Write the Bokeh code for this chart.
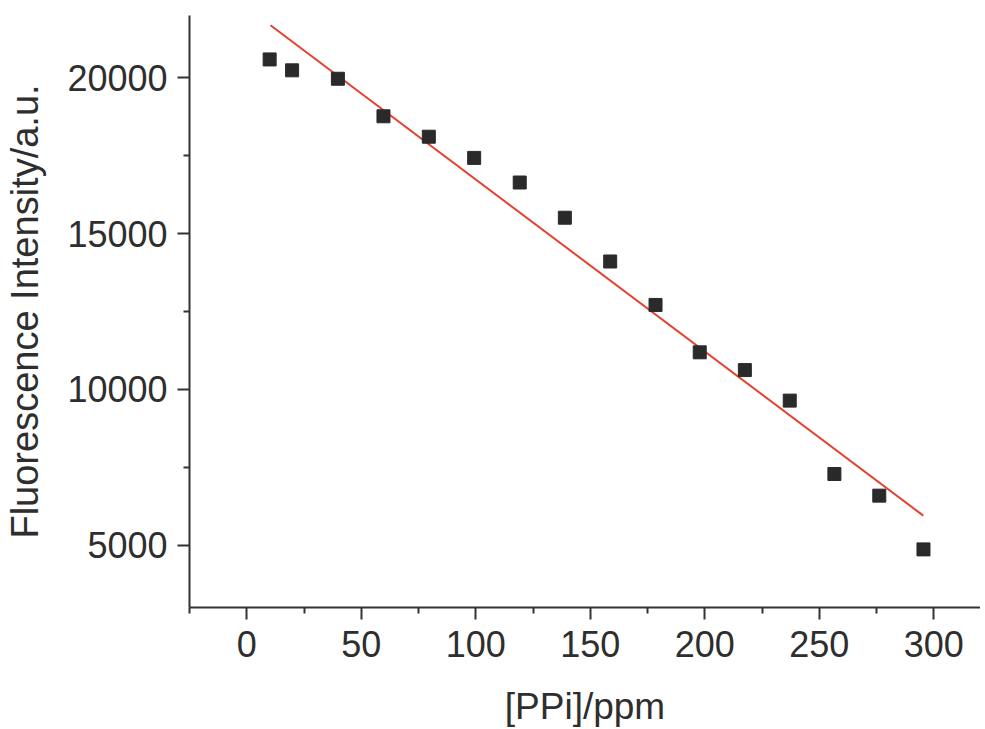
from bokeh.plotting import figure
from bokeh.models import FixedTicker, Range1d
from bokeh.embed import file_html
from bokeh.resources import INLINE

# Data
ppi_ppm = [10, 19.8, 39.8, 59.7, 79.5, 99.3, 119.2, 138.9, 158.7, 178.5,
           197.8, 217.5, 237.1, 256.6, 276.2, 295.5]
intensity = [20590, 20240, 19970, 18765, 18110, 17430, 16640, 15510, 14105,
             12710, 11190, 10620, 9640, 7285, 6590, 4865]
# linear fit line endpoints
fit_x = [10.35, 295.4]
fit_y = [21685, 5950]

x_major = [0, 50, 100, 150, 200, 250, 300]
x_minor = [-25, 25, 75, 125, 175, 225, 275, 325]
y_major = [5000, 10000, 15000, 20000]
y_minor = [7500, 12500, 17500]

FONT = "Liberation Sans"
TXT = "#2e2e2e"
AX = "#333333"

p = figure(width=980, height=729, output_backend="svg", toolbar_location=None,
           x_range=Range1d(-25, 320.4), y_range=Range1d(3000, 22000),
           min_border_left=189, min_border_right=0, min_border_top=15,
           min_border_bottom=0)

p.outline_line_color = None
p.xgrid.grid_line_color = None
p.ygrid.grid_line_color = None
p.background_fill_color = "white"
p.border_fill_color = "white"

p.line(fit_x, fit_y, line_color="#e5412f", line_width=2)
p.scatter(ppi_ppm, intensity, marker="square", size=13,
          fill_color="#2a2a2a", line_color="#2a2a2a")

for ax in (p.xaxis[0], p.yaxis[0]):
    ax.axis_line_color = AX
    ax.axis_line_width = 2
    ax.major_tick_line_color = AX
    ax.minor_tick_line_color = AX
    ax.major_tick_line_width = 2
    ax.minor_tick_line_width = 2
    ax.major_tick_out = 12
    ax.major_tick_in = 0
    ax.minor_tick_out = 6
    ax.minor_tick_in = 0
    ax.major_label_text_font = FONT
    ax.major_label_text_font_size = "36px"
    ax.major_label_text_color = TXT
    ax.axis_label_text_font = FONT
    ax.axis_label_text_font_size = "37px"
    ax.axis_label_text_font_style = "normal"
    ax.axis_label_text_color = TXT

p.yaxis.axis_label_text_font_size = "38px"
p.xaxis.ticker = FixedTicker(ticks=x_major, minor_ticks=x_minor)
p.yaxis.ticker = FixedTicker(ticks=y_major, minor_ticks=y_minor)
p.xaxis.axis_label = "[PPi]/ppm"
p.yaxis.axis_label = "Fluorescence Intensity/a.u."
p.xaxis.major_label_standoff = 11
p.yaxis.major_label_standoff = 10
p.xaxis.axis_label_standoff = 26
p.yaxis.axis_label_standoff = 18

open("out.html", "w").write(file_html(p, INLINE))
